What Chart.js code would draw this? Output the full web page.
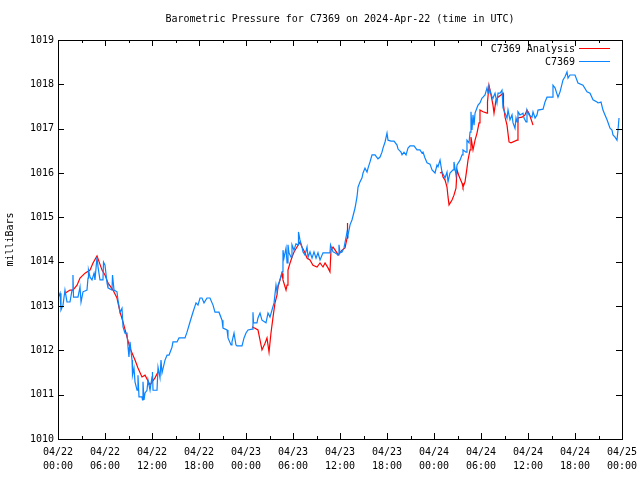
<!DOCTYPE html>
<html>
<head>
<meta charset="utf-8">
<script src="https://cdn.jsdelivr.net/npm/chart.js@4"></script>
<style>
  html, body { margin: 0; padding: 0; background: #fff; }
  canvas { display: block; }
</style>
</head>
<body>
<canvas id="chartCanvas" width="640" height="480"></canvas>
<script>
// hours since 2024-04-22 00:00 UTC
const stationHours = [0.00,0.26,0.38,0.64,0.89,1.15,1.53,1.79,1.91,1.98,2.55,2.81,2.94,3.19,3.70,3.83,3.89,4.09,4.34,4.60,4.72,4.98,5.11,5.36,5.74,5.81,6.00,6.26,6.38,6.89,6.96,7.15,7.53,7.66,7.92,8.17,8.30,8.55,8.81,8.94,9.06,9.19,9.45,9.51,9.70,9.83,10.09,10.21,10.34,10.72,10.79,10.85,10.98,11.11,11.36,11.49,11.75,12.00,12.06,12.13,12.64,12.77,13.02,13.15,13.28,13.66,13.92,14.17,14.55,14.68,15.19,15.45,16.21,16.47,16.85,17.23,17.62,17.87,18.13,18.38,18.64,19.02,19.40,19.79,20.04,20.55,20.94,21.06,21.58,21.70,22.09,22.21,22.47,22.72,22.85,23.49,23.75,24.00,24.26,24.77,24.89,24.96,25.40,25.53,25.79,26.04,26.55,26.81,27.06,27.32,27.58,27.83,27.96,28.09,28.34,28.60,28.72,28.85,29.11,29.24,29.36,29.49,29.75,29.87,30.13,30.38,30.64,30.70,30.89,31.15,31.28,31.53,31.79,31.92,32.17,32.43,32.68,32.94,33.19,33.45,33.83,34.72,34.79,35.11,35.36,35.75,35.87,36.00,36.26,36.51,36.90,37.02,37.28,37.53,37.92,38.17,38.30,38.55,38.81,38.94,39.19,39.45,39.58,39.83,40.09,40.47,40.85,41.11,41.36,41.49,41.75,42.00,42.13,42.51,42.90,43.28,43.41,43.79,43.92,44.17,44.43,44.68,44.94,45.45,45.83,46.21,46.47,46.60,46.85,47.11,47.49,47.75,48.13,48.38,48.51,48.77,49.02,49.41,49.66,49.79,50.04,50.43,50.55,50.81,50.94,51.32,51.58,51.70,52.09,52.21,52.47,52.60,52.72,52.85,52.98,53.11,53.24,53.49,53.62,53.87,54.13,54.26,54.51,54.77,54.90,55.02,55.41,55.53,55.79,56.04,56.17,56.43,56.68,56.81,57.07,57.32,57.45,57.70,57.96,58.09,58.34,58.47,58.60,58.72,58.98,59.36,59.49,59.75,59.87,60.13,60.51,60.64,60.90,61.15,61.28,61.92,62.17,62.43,63.07,63.19,63.45,63.83,64.09,64.47,64.72,64.98,65.11,65.36,66.00,66.38,67.02,67.53,67.92,68.30,68.81,68.94,69.32,69.57,69.83,70.09,70.47,70.72,70.85,71.11,71.36,71.49,71.62];
const stationPressure = [1013.18,1013.29,1012.91,1013.02,1013.36,1013.09,1013.09,1013.36,1013.70,1013.20,1013.20,1013.43,1013.09,1013.32,1013.36,1013.63,1013.81,1013.65,1013.59,1013.74,1013.59,1014.10,1013.88,1013.59,1013.59,1013.99,1013.92,1013.52,1013.41,1013.36,1013.70,1013.36,1013.32,1013.13,1012.86,1012.95,1012.53,1012.39,1012.39,1012.07,1011.85,1012.19,1011.78,1011.44,1011.60,1011.29,1011.10,1011.44,1010.95,1010.95,1010.88,1011.29,1010.88,1011.04,1011.10,1011.33,1011.10,1011.40,1011.51,1011.10,1011.10,1011.62,1011.38,1011.78,1011.49,1011.78,1011.89,1011.89,1012.07,1012.19,1012.19,1012.28,1012.28,1012.41,1012.64,1012.86,1013.07,1013.02,1013.18,1013.18,1013.07,1013.18,1013.18,1013.02,1012.86,1012.86,1012.68,1012.50,1012.46,1012.28,1012.12,1012.19,1012.39,1012.12,1012.10,1012.10,1012.28,1012.39,1012.46,1012.48,1012.86,1012.62,1012.62,1012.73,1012.84,1012.68,1012.62,1012.84,1012.75,1012.91,1013.07,1013.47,1013.32,1013.47,1013.59,1013.77,1014.26,1014.08,1014.31,1013.97,1014.38,1014.20,1014.10,1014.38,1014.26,1014.40,1014.38,1014.67,1014.49,1014.33,1014.22,1014.15,1014.33,1014.10,1014.22,1014.08,1014.22,1014.08,1014.20,1014.04,1014.20,1014.20,1014.38,1014.22,1014.20,1014.15,1014.38,1014.20,1014.22,1014.31,1014.67,1014.60,1014.83,1014.94,1015.21,1015.46,1015.68,1015.80,1015.89,1016.00,1016.11,1016.02,1016.11,1016.25,1016.41,1016.41,1016.32,1016.36,1016.47,1016.56,1016.70,1016.90,1016.74,1016.72,1016.72,1016.63,1016.54,1016.47,1016.41,1016.47,1016.41,1016.56,1016.61,1016.61,1016.52,1016.52,1016.45,1016.47,1016.34,1016.23,1016.20,1016.07,1016.00,1016.18,1016.14,1016.29,1016.02,1015.89,1016.02,1015.80,1016.00,1016.07,1016.25,1015.95,1016.18,1016.29,1016.41,1016.52,1016.47,1016.74,1016.68,1016.92,1017.38,1016.97,1017.31,1017.08,1017.35,1017.47,1017.53,1017.58,1017.69,1017.71,1017.76,1017.92,1017.80,1017.94,1017.71,1017.69,1017.80,1017.58,1017.80,1017.80,1017.87,1017.47,1017.35,1017.24,1017.42,1017.20,1017.31,1017.13,1017.01,1017.24,1017.15,1017.38,1017.31,1017.35,1017.24,1017.15,1017.42,1017.31,1017.26,1017.38,1017.24,1017.31,1017.42,1017.44,1017.60,1017.71,1017.71,1017.98,1017.92,1017.71,1017.83,1018.10,1018.17,1018.28,1018.14,1018.21,1018.21,1018.03,1017.98,1017.83,1017.80,1017.65,1017.60,1017.58,1017.60,1017.42,1017.31,1017.20,1017.01,1016.97,1016.86,1016.81,1016.74,1016.97,1017.24];

// analysis runs (null = gap between runs)
const analysisHours = [0.89,1.53,1.91,2.43,2.81,3.45,4.09,4.47,4.98,5.62,6.00,6.38,7.02,7.53,7.92,8.30,8.81,9.19,9.83,10.21,10.72,11.11,11.75,12.38,12.77,
  18.00,
  24.77,25.15,25.53,26.04,26.43,26.68,26.94,27.19,27.45,27.70,27.96,28.09,28.34,28.60,28.72,29.11,29.24,29.36,29.62,29.87,30.13,30.51,30.89,31.15,31.53,31.79,32.17,32.55,33.07,33.45,33.83,34.09,34.47,34.72,34.85,35.11,35.62,35.75,36.26,36.64,36.90,36.96,
  42.00,
  48.77,49.02,49.15,49.41,49.66,49.79,49.92,50.30,50.55,50.81,50.94,51.19,51.58,51.70,51.96,52.21,52.34,52.60,52.72,52.98,53.24,53.49,53.75,53.87,54.26,54.77,54.83,55.02,55.28,55.53,55.66,55.92,56.17,56.55,56.81,56.87,57.07,57.32,57.58,57.83,58.60,58.72,59.24,59.62,59.87,60.13,60.51,60.64];
const analysisPressure = [1013.29,1013.36,1013.36,1013.47,1013.63,1013.74,1013.81,1013.97,1014.13,1013.81,1013.70,1013.52,1013.36,1013.18,1012.86,1012.64,1012.30,1012.05,1011.78,1011.60,1011.40,1011.44,1011.22,1011.38,1011.51,
  null,
  1012.53,1012.50,1012.46,1012.01,1012.16,1012.28,1011.96,1012.39,1012.75,1013.07,1013.25,1013.43,1013.59,1013.74,1013.59,1013.36,1013.47,1013.81,1013.97,1014.10,1014.22,1014.33,1014.44,1014.33,1014.20,1014.08,1014.04,1013.92,1013.88,1013.97,1013.88,1013.97,1013.86,1013.77,1014.26,1014.33,1014.20,1014.15,1014.26,1014.31,1014.53,1014.87,
  null,
  1016.00,1016.02,1015.91,1015.84,1015.68,1015.46,1015.28,1015.39,1015.50,1015.66,1016.07,1015.93,1015.77,1015.68,1015.80,1016.11,1016.29,1016.52,1016.81,1016.52,1016.74,1016.90,1017.13,1017.42,1017.38,1017.35,1017.60,1017.98,1017.76,1017.53,1017.35,1017.65,1017.71,1017.76,1017.80,1017.53,1017.26,1017.08,1016.70,1016.68,1016.74,1017.24,1017.26,1017.31,1017.42,1017.35,1017.15,1017.08];

const dayLabels = ['04/22', '04/23', '04/24', '04/25'];
const hourLabels = ['00:00', '06:00', '12:00', '18:00'];

const titleText = 'Barometric Pressure for C7369 on 2024-Apr-22 (time in UTC)';
const analysisName = 'C7369 Analysis';
const stationName = 'C7369';
const RED = '#ff0000';
const BLUE = '#0a84ff';
const FONT = "'DejaVu Sans Mono', 'Liberation Mono', monospace";

const zip = (xs, ys) => xs.map((x, i) => ({ x: x, y: ys[i] }));

// gnuplot-like frame, inward tics, title and key
const gnuplotFrame = {
	id: 'gnuplotFrame',
	afterDraw(chart) {
		const { ctx, chartArea: a, scales } = chart;
		const xs = scales.x, ys = scales.y;
		ctx.save();
		ctx.strokeStyle = '#000';
		ctx.lineWidth = 1;
		ctx.strokeRect(a.left + 0.5, a.top + 0.5, a.right - a.left, a.bottom - a.top);
		ctx.beginPath();
		for (let h = 0; h <= 72; h += 3) {
			const px = Math.round(xs.getPixelForValue(h)) + 0.5;
			const len = h % 6 === 0 ? 6 : 3;
			ctx.moveTo(px, a.bottom); ctx.lineTo(px, a.bottom - len);
			ctx.moveTo(px, a.top); ctx.lineTo(px, a.top + len);
		}
		for (let p = 1010; p <= 1019; p++) {
			const py = Math.round(ys.getPixelForValue(p)) + 0.5;
			ctx.moveTo(a.left, py); ctx.lineTo(a.left + 6, py);
			ctx.moveTo(a.right, py); ctx.lineTo(a.right - 6, py);
		}
		ctx.stroke();

		ctx.fillStyle = '#000';
		ctx.font = '10px ' + FONT;
		ctx.textBaseline = 'middle';
		ctx.textAlign = 'center';
		ctx.fillText(titleText, (a.left + a.right) / 2, 19);

		ctx.textAlign = 'right';
		ctx.fillText(analysisName, 575, 49);
		ctx.fillText(stationName, 575, 62);
		ctx.beginPath();
		ctx.strokeStyle = RED;
		ctx.moveTo(579, 48.5); ctx.lineTo(610, 48.5);
		ctx.stroke();
		ctx.beginPath();
		ctx.strokeStyle = BLUE;
		ctx.moveTo(579, 61.5); ctx.lineTo(610, 61.5);
		ctx.stroke();
		ctx.restore();
	}
};

new Chart(document.getElementById('chartCanvas'), {
	type: 'line',
	data: {
		datasets: [
			{
				label: stationName,
				data: zip(stationHours, stationPressure),
				borderColor: BLUE,
				borderWidth: 1.2,
				pointRadius: 0,
				tension: 0,
				order: 1
			},
			{
				label: analysisName,
				data: zip(analysisHours, analysisPressure),
				borderColor: RED,
				borderWidth: 1.2,
				pointRadius: 0,
				tension: 0,
				spanGaps: false,
				order: 2
			}
		]
	},
	options: {
		responsive: false,
		animation: false,
		layout: { padding: { top: 40, right: 18, left: 0, bottom: 0 } },
		plugins: {
			legend: { display: false },
			title: { display: false },
			tooltip: { enabled: false }
		},
		scales: {
			x: {
				type: 'linear',
				min: 0,
				max: 72,
				afterFit: (s) => { s.height = 41; s.paddingLeft = 0; s.paddingRight = 0; },
				grid: { display: false, drawTicks: false },
				border: { display: false },
				ticks: {
					stepSize: 6,
					padding: 7,
					autoSkip: false,
					maxRotation: 0,
					color: '#000',
					font: { family: FONT, size: 10, lineHeight: 1.35 },
					callback: (v) => [dayLabels[Math.floor(v / 24)], hourLabels[(v % 24) / 6]]
				}
			},
			y: {
				min: 1010,
				max: 1019,
				afterFit: (s) => { s.width = 58; s.paddingTop = 0; s.paddingBottom = 0; },
				grid: { display: false, drawTicks: false },
				border: { display: false },
				title: {
					display: true,
					text: 'milliBars',
					color: '#000',
					padding: { top: 4, bottom: 0 },
					font: { family: FONT, size: 10 }
				},
				ticks: {
					stepSize: 1,
					padding: 4,
					color: '#000',
					font: { family: FONT, size: 10 },
					callback: (v) => String(v)
				}
			}
		}
	},
	plugins: [gnuplotFrame]
});
</script>
</body>
</html>
